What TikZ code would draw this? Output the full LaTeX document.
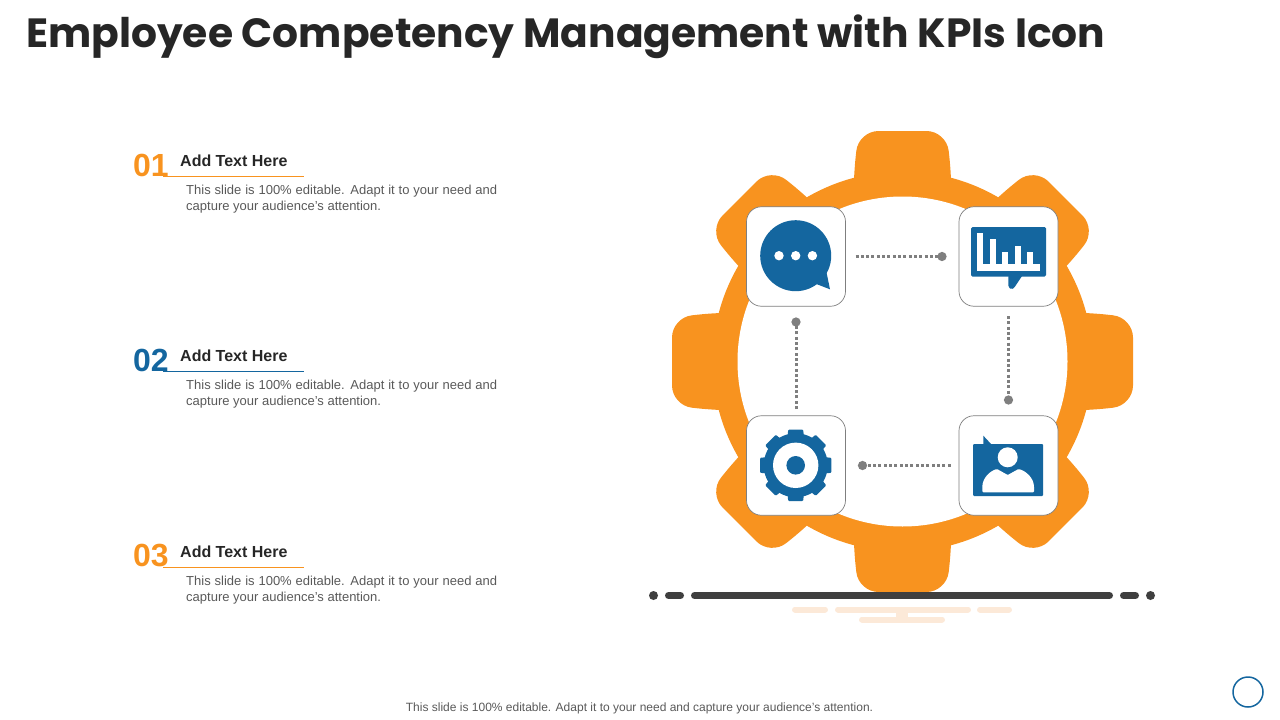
\documentclass[tikz,border=0pt]{standalone}
\usepackage{xcolor}
\usepackage{fontspec}
\setmainfont{Liberation Sans}
\newfontfamily\titlefont{Poppins}
\usetikzlibrary{calc,arrows.meta}
\definecolor{gearorange}{HTML}{F8931F}
\definecolor{iconblue}{HTML}{14669F}
\definecolor{barpeach}{HTML}{FCE9D8}
\definecolor{bardark}{HTML}{3F3F3F}
\definecolor{linkgrey}{HTML}{7F7F7F}
\definecolor{bodygrey}{HTML}{595959}
\tikzset{
	iconbox/.style={draw=linkgrey, line width=0.7pt, fill=white, rounded corners=15pt, minimum width=99pt, minimum height=99.5pt, inner sep=0pt},
	link/.style={line width=3pt, linkgrey, dash pattern=on 3pt off 2.33pt, -{Circle[length=9pt,width=9pt]}},
	headtext/.style={anchor=west, font=\bfseries\fontsize{16}{19}\selectfont, text=black!85, inner sep=0pt},
	numtext/.style={anchor=west, font=\bfseries\fontsize{32}{36}\selectfont, inner sep=0pt},
	bodytext/.style={anchor=north west, font=\fontsize{13}{16}\selectfont, text=bodygrey, text width=311pt, align=justify, inner sep=0pt},
	darkbar/.style={line width=7pt, bardark, line cap=round},
	peachbar/.style={line width=6pt, barpeach, line cap=round}
}
\begin{document}
\begin{tikzpicture}[x=1pt,y=-1pt]
\useasboundingbox (0,0) rectangle (1280,720);
\node (title) [anchor=west, inner sep=0pt, text=black!85, font=\titlefont\bfseries\fontsize{40.8}{48}\selectfont] at (26,37) {Employee Competency Management with KPIs Icon};

% left column
\foreach \n/\y/\c in {01/160/gearorange,02/355/iconblue,03/551/gearorange}{
	\node (num\n) [numtext, text=\c] at (133,\y+5) {\n};
	\node (head\n) [headtext] at (180,\y+1) {Add Text Here};
	\draw [line width=1.2pt, \c] (163,\y+16.5) -- (304,\y+16.5);
	\node (body\n) [bodytext] at (186,\y+24.5) {This slide is 100\% editable. Adapt it to your need and capture your audience's attention.};
}

% gear
\begin{scope}[shift={(902.5,361.5)}]
\foreach \a in {0,45,...,315}
	\fill [gearorange, rotate=\a, rounded corners=20pt] (-49,-150) -- (-49,-185) -- (-44,-230.5) -- (44,-230.5) -- (49,-185) -- (49,-150) -- cycle;
\fill [gearorange] (0,0) circle [radius=190];
\fill [white] (0,0) circle [radius=165];
\end{scope}

% ground bars
\fill [bardark] (653.5,595.5) circle [radius=4.5];
\draw [darkbar] (668.5,595.5) -- (680.5,595.5);
\draw [darkbar] (694.5,595.5) -- (1109.5,595.5);
\draw [darkbar] (1123.5,595.5) -- (1135.5,595.5);
\fill [bardark] (1150.5,595.5) circle [radius=4.5];
\fill [barpeach] (896,612) rectangle (908,617);
\draw [peachbar] (795,609.5) -- (825,609.5);
\draw [peachbar] (838,609.5) -- (968,609.5);
\draw [peachbar] (980,609.5) -- (1009,609.5);
\draw [peachbar] (862,619.5) -- (942,619.5);

% icon boxes
\node (boxchat) [iconbox] at (796,256.5) {};
\node (boxchart) [iconbox] at (1008.5,256.5) {};
\node (boxgear) [iconbox] at (796,465.5) {};
\node (boxuser) [iconbox] at (1008.5,465.5) {};

% connectors
\draw [link, shorten <=59.5pt, shorten >=62pt] (boxchat.center) -- (boxchart.center);
\draw [link, shorten <=59.5pt, shorten >=61pt] (boxchart.center) -- (boxuser.center);
\draw [link, shorten <=58pt, shorten >=62pt] (boxuser.center) -- (boxgear.center);
\draw [link, shorten <=56.5pt, shorten >=61pt] (boxgear.center) -- (boxchat.center);

% chat icon
\fill [iconblue] (795.7,255.7) circle [radius=35.5];
\fill [iconblue] (826,270) -- (830,289.3) -- (815,283.5) -- cycle;
\foreach \x in {-16.7,0,16.7}
	\fill [white] (795.7+\x,255.7) circle [radius=4.7];

% chart icon
\fill [iconblue, rounded corners=1.5pt] (971,227) rectangle (1046,276.7);
\fill [iconblue, rounded corners=1.5pt] (1008.3,275) -- (1008.3,287) -- (1011.5,289.5) -- (1014,288) -- (1022.7,275) -- cycle;
\fill [white] (977.3,233.3) rectangle (983.3,271);
\fill [white] (977.3,264.3) rectangle (1040,271);
\foreach \l/\r/\t in {990/996/239,1002/1008/251.7,1014.7/1020.7/245.7,1026.7/1033.3/251.7}
	\fill [white] (\l,\t) rectangle (\r,265);

% gear icon
\begin{scope}[shift={(795.7,465.3)}]
\foreach \a in {0,45,...,315}
	\fill [iconblue, rotate=\a, rounded corners=1pt] (-8.5,-25) -- (-7.5,-35.7) -- (7.5,-35.7) -- (8.5,-25) -- cycle;
\fill [iconblue] (0,0) circle [radius=32];
\fill [white] (0,0) circle [radius=22.7];
\fill [iconblue] (0,0) circle [radius=9.3];
\end{scope}

% user icon
\fill [iconblue, rounded corners=1pt] (973,444) rectangle (1043,496);
\fill [iconblue] (983.3,435.7) -- (983.3,445) -- (992,445) -- cycle;
\fill [white] (1007.7,457.3) circle [radius=10];
\fill [white, rounded corners=1pt] (982.3,492.3) -- (982.3,488) .. controls (982.3,478) and (990,471) .. (997,469) -- (1007.7,475) -- (1018.5,469) .. controls (1026,471) and (1034,478) .. (1034,488) -- (1034,492.3) -- cycle;

% footer and page mark
\node (footer) [inner sep=0pt, text=bodygrey, font=\fontsize{12}{14}\selectfont] at (639.5,708.5) {This slide is 100\% editable. Adapt it to your need and capture your audience's attention.};
\node (pagemark) [draw=iconblue, line width=1.5pt, circle, fill=white, minimum size=30pt, inner sep=0pt] at (1248,692) {};
\end{tikzpicture}
\end{document}
